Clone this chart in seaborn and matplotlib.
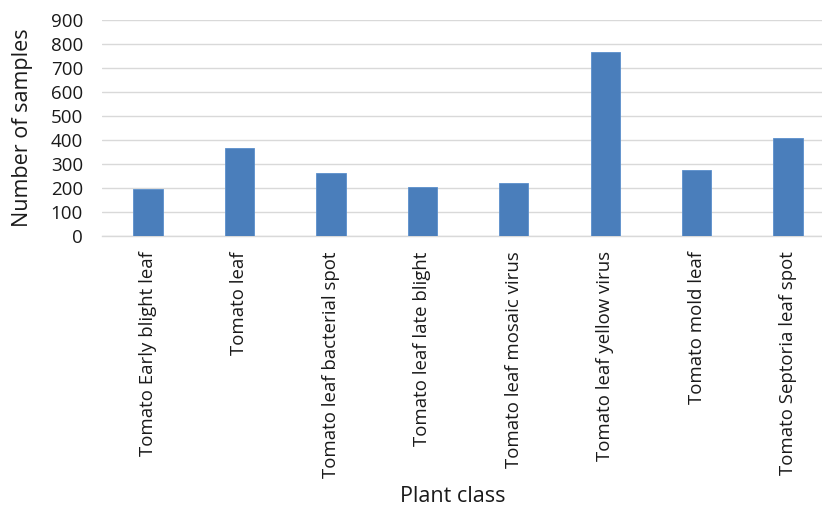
import matplotlib
matplotlib.use("Agg")
import matplotlib.pyplot as plt
import seaborn as sns
import pandas as pd

categories = [
    "Tomato Early blight leaf",
    "Tomato leaf",
    "Tomato leaf bacterial spot",
    "Tomato leaf late blight",
    "Tomato leaf mosaic virus",
    "Tomato leaf yellow virus",
    "Tomato mold leaf",
    "Tomato Septoria leaf spot",
]
samples = [194, 367, 264, 204, 222, 766, 274, 408]
y_ticks = [0, 100, 200, 300, 400, 500, 600, 700, 800, 900]

df = pd.DataFrame({"Plant class": categories, "Number of samples": samples})

sns.set_theme(style="white")
plt.rcParams["font.family"] = ["Open Sans", "DejaVu Sans"]

fig = plt.figure(figsize=(8.22, 5.08), dpi=100)
ax = fig.add_axes([0.1245, 0.5354, 0.8898, 0.4252])

sns.barplot(data=df, x="Plant class", y="Number of samples", color="#4a7ebb",
            saturation=1, width=0.32, edgecolor="#5b8fcc", linewidth=0.6, ax=ax, zorder=3)

ax.set_ylim(0, 900)
ax.set_yticks(y_ticks)
ax.set_xlim(-0.5, len(categories) - 0.5)
ax.yaxis.grid(True, color="#d9d9d9", linewidth=1.0, zorder=0)
ax.set_axisbelow(True)
for side in ["top", "right", "left"]:
    ax.spines[side].set_visible(False)
ax.spines["bottom"].set_color("#d9d9d9")
ax.spines["bottom"].set_linewidth(1.0)

ax.tick_params(axis="y", length=0, pad=14, labelsize=13.5, labelcolor="#1a1a1a")
ax.tick_params(axis="x", length=0, pad=11, labelsize=13.4, labelcolor="#1a1a1a")
for lbl in ax.get_xticklabels():
    lbl.set_rotation(90)
    lbl.set_va("top")
    lbl.set_ha("center")

ax.set_ylabel("Number of samples", fontsize=15.5, color="#1a1a1a", labelpad=13)
ax.set_xlabel("Plant class", fontsize=15.5, color="#1a1a1a", va="center")
ax.xaxis.set_label_coords(0.4795, -1.208)

fig.savefig("out.png", dpi=100, facecolor="white")
